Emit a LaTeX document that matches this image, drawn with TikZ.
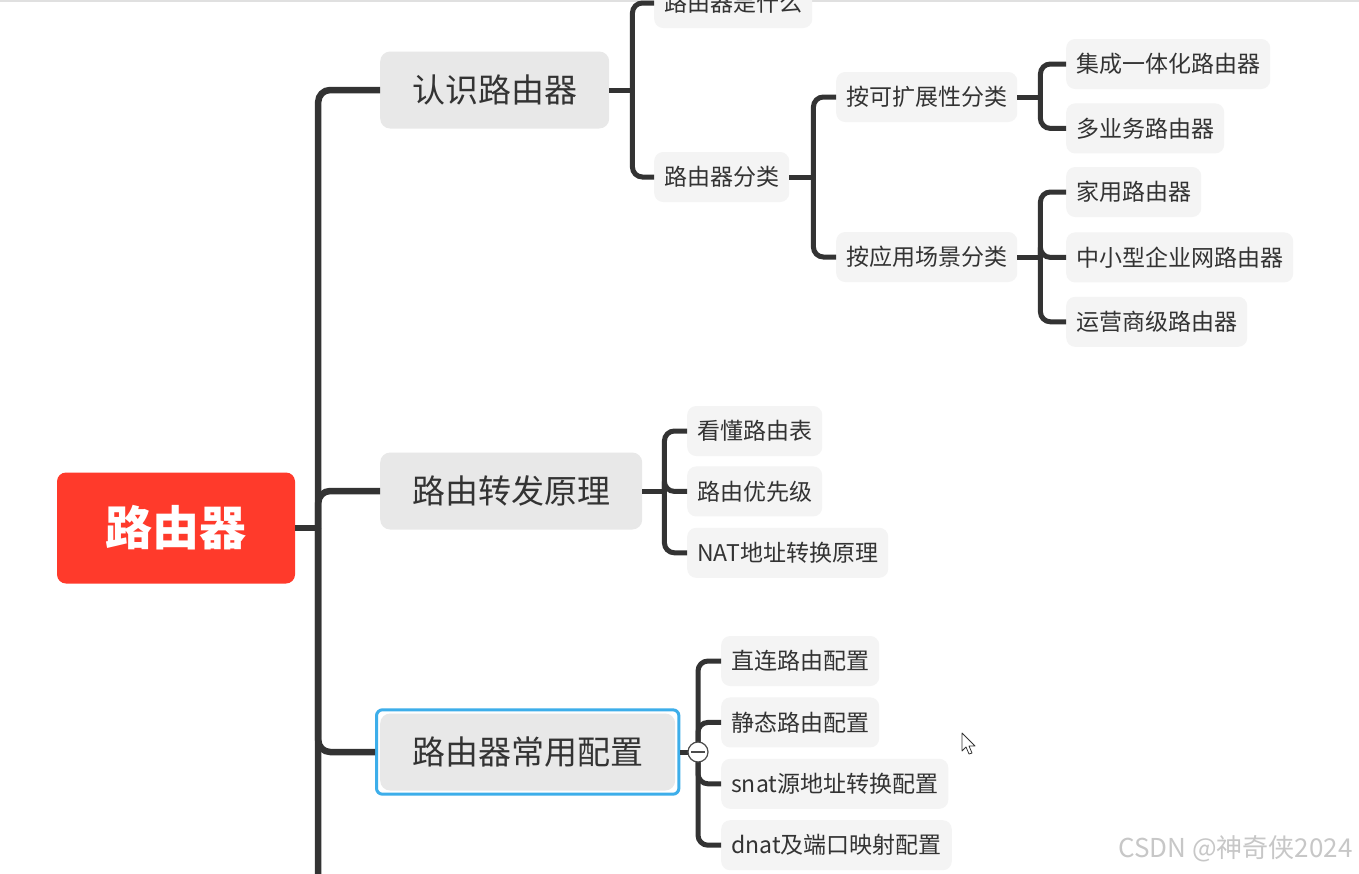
\documentclass[tikz,border=0pt]{standalone}
\usepackage{fontspec}
\setmainfont{Noto Sans CJK SC}
\usepackage{tikz}
\usetikzlibrary{positioning, fit}
\usepackage{xcolor}
\definecolor{rootred}{HTML}{FF3A2B}
\definecolor{topicgray}{HTML}{E8E8E8}
\definecolor{subgray}{HTML}{F4F4F4}
\definecolor{linedark}{HTML}{333333}
\definecolor{textdark}{HTML}{333333}
\definecolor{selblue}{HTML}{3DAEEA}

\begin{document}
\begin{tikzpicture}[x=1pt, y=-1pt,
    rootnode/.style={rectangle, rounded corners=9pt, fill=rootred, text=white, font=\fontsize{47}{50}\selectfont\bfseries, minimum width=238pt, minimum height=111pt},
    topic/.style={rectangle, rounded corners=10pt, fill=topicgray, text=textdark, font=\fontsize{33}{36}\selectfont, inner xsep=32pt, minimum height=77pt},
    subtopic/.style={rectangle, rounded corners=9pt, fill=subgray, text=textdark, font=\fontsize{23}{26}\selectfont, inner xsep=10pt, minimum height=50pt},
    selbox/.style={rectangle, draw=selblue, line width=3pt, rounded corners=6pt, inner sep=3.5pt},
    toggle/.style={circle, draw=black!70, fill=white, line width=1.2pt, minimum size=20pt, inner sep=0pt},
    trunk/.style={draw=linedark, line width=6.5pt, rounded corners=12pt},
    link/.style={draw=linedark, line width=5pt, rounded corners=10pt},
    wmark/.style={font=\fontsize{26}{28}\selectfont, text=black!22}
]
    \useasboundingbox (0,0) rectangle (1359,873);
    \clip (0,0) rectangle (1359,873);
    \fill[white] (0,0) rectangle (1359,873);
    \draw[black!12, line width=1.5pt] (0,1) -- (1359,1);

    % Root and main topics
    \node[rootnode] (root) at (176,528) {路由器};
    \node[topic, anchor=west] (know) at (380,90) {认识路由器};
    \node[topic, anchor=west] (fwd) at (380,491) {路由转发原理};
    \node[topic, anchor=west] (cfg) at (380,752) {路由器常用配置};
    \node[selbox, fit=(cfg)] (sel) {};
    \coordinate (more) at (318,910);

    % Subtopics of 认识路由器
    \node[subtopic, anchor=west] (what) at (654,3) {路由器是什么};
    \node[subtopic, anchor=west] (kinds) at (654,177) {路由器分类};
    \node[subtopic, anchor=west] (byext) at (836,97) {按可扩展性分类};
    \node[subtopic, anchor=west] (byuse) at (836,257) {按应用场景分类};
    \node[subtopic, anchor=west] (integ) at (1066,64) {集成一体化路由器};
    \node[subtopic, below=14pt of integ.south west, anchor=north west] (multi) {多业务路由器};
    \node[subtopic, anchor=west] (home) at (1066,192) {家用路由器};
    \node[subtopic, below=15pt of home.south west, anchor=north west] (smb) {中小型企业网路由器};
    \node[subtopic, below=14pt of smb.south west, anchor=north west] (carrier) {运营商级路由器};

    % Subtopics of 路由转发原理
    \node[subtopic, anchor=west] (table) at (687,431) {看懂路由表};
    \node[subtopic, below=10pt of table.south west, anchor=north west] (prio) {路由优先级};
    \node[subtopic, below=11pt of prio.south west, anchor=north west] (nat) {NAT地址转换原理};

    % Subtopics of 路由器常用配置
    \node[subtopic, anchor=west] (direct) at (721,661) {直连路由配置};
    \node[subtopic, below=11pt of direct.south west, anchor=north west] (static) {静态路由配置};
    \node[subtopic, below=11pt of static.south west, anchor=north west] (snat) {snat源地址转换配置};
    \node[subtopic, below=11pt of snat.south west, anchor=north west] (dnat) {dnat及端口映射配置};
    \coordinate (jn) at (698,752);

    % Connectors
    \draw[trunk] (root.east) -- ++(23,0) coordinate (rootfork);
    \draw[trunk] (rootfork) |- (know.west);
    \draw[trunk] (rootfork) |- (fwd.west);
    \draw[trunk] (rootfork) |- (sel.west);
    \draw[trunk] (rootfork) -- (more);

    \draw[link] (know.east) -- ++(23,0) coordinate (knowfork);
    \draw[link] (knowfork) |- (what.west);
    \draw[link] (knowfork) |- (kinds.west);
    \draw[link] (kinds.east) -- ++(24,0) coordinate (kindsfork);
    \draw[link] (kindsfork) |- (byext.west);
    \draw[link] (kindsfork) |- (byuse.west);
    \draw[link] (byext.east) -- ++(23,0) coordinate (extfork);
    \draw[link] (extfork) |- (integ.west);
    \draw[link] (extfork) |- (multi.west);
    \draw[link] (byuse.east) -- ++(23,0) coordinate (usefork);
    \draw[link] (usefork) |- (home.west);
    \draw[link] (usefork) |- (smb.west);
    \draw[link] (usefork) |- (carrier.west);

    \draw[link] (fwd.east) -- ++(22,0) coordinate (fwdfork);
    \draw[link] (fwdfork) |- (table.west);
    \draw[link] (fwdfork) |- (prio.west);
    \draw[link] (fwdfork) |- (nat.west);

    \draw[link] (sel.east) -- (jn);
    \draw[link] (jn) |- (direct.west);
    \draw[link] (jn) |- (static.west);
    \draw[link] (jn) |- (snat.west);
    \draw[link] (jn) |- (dnat.west);
    \node[toggle] (fold) at (jn) {};
    \draw[black!70, line width=1.2pt] ([xshift=4pt]fold.west) -- ([xshift=-4pt]fold.east);

    % Pointer and watermark
    \draw[black!80, fill=white, line width=0.8pt, line join=round] (962,733) -- (962,751) -- (966,747) -- (969,754) -- (972,753) -- (969,746) -- (975,746) -- cycle;
    \node[wmark, anchor=east] (wm) at (1356,849) {CSDN @神奇侠2024};
\end{tikzpicture}
\end{document}
